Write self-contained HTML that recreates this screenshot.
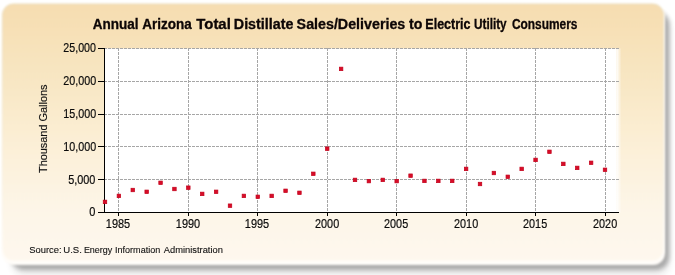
<!DOCTYPE html>
<html><head><meta charset="utf-8"><style>
html,body{margin:0;padding:0;background:#fff;width:675px;height:275px;overflow:hidden}
svg{display:block;font-family:"Liberation Sans",sans-serif}
</style></head><body>
<svg width="675" height="275" viewBox="0 0 675 275">
<defs>
<linearGradient id="bg" x1="0" y1="0" x2="0" y2="1">
<stop offset="0" stop-color="rgb(246,221,177)"/>
<stop offset="0.10" stop-color="rgb(247,224,182)"/>
<stop offset="0.32" stop-color="rgb(248,231,197)"/>
<stop offset="0.57" stop-color="rgb(252,240,216)"/>
<stop offset="0.79" stop-color="rgb(253,245,231)"/>
<stop offset="1" stop-color="rgb(254,248,238)"/>
</linearGradient>
<linearGradient id="bd" x1="0" y1="0" x2="0" y2="1">
<stop offset="0" stop-color="#dccfa8" stop-opacity="0.55"/>
<stop offset="0.5" stop-color="#e8dcc0" stop-opacity="0.4"/>
<stop offset="1" stop-color="#ffffff" stop-opacity="0.6"/>
</linearGradient>
<linearGradient id="pr" x1="0" y1="0" x2="1" y2="0">
<stop offset="0" stop-color="#fff" stop-opacity="1"/>
<stop offset="1" stop-color="#fff" stop-opacity="0"/>
</linearGradient>
<filter id="sh" x="-5%" y="-10%" width="110%" height="120%"><feGaussianBlur stdDeviation="2.2"/></filter>
<filter id="sh2" x="-5%" y="-10%" width="110%" height="120%"><feGaussianBlur stdDeviation="3"/></filter>
<filter id="idf" x="0" y="0" width="100%" height="100%" filterUnits="userSpaceOnUse"><feOffset dx="0" dy="0"/></filter>
<filter id="pb" x="-2%" y="-3%" width="104%" height="106%"><feGaussianBlur stdDeviation="0.9"/></filter>
<filter id="sb" x="-2%" y="-3%" width="104%" height="106%"><feGaussianBlur stdDeviation="1.3"/></filter>
</defs>
<rect x="10.5" y="12" width="660" height="265" rx="15" fill="#000" opacity="0.07" filter="url(#sh2)"/>
<rect x="10.5" y="11" width="659" height="259" rx="14" fill="#000" opacity="0.28" filter="url(#sh)"/>
<rect x="1.5" y="3" width="663.5" height="262" rx="12" fill="#fffdf9" filter="url(#sb)"/>
<rect x="2.5" y="4" width="661" height="257" rx="11" fill="url(#bg)" stroke="url(#bd)" stroke-width="1" filter="url(#pb)"/>
<rect x="104.5" y="48.5" width="512" height="164" fill="#fff"/>
<rect x="616.5" y="48.5" width="5" height="164" fill="url(#pr)"/>
<g stroke="#a6a6a6" stroke-width="1" stroke-dasharray="3,1" shape-rendering="crispEdges"><line x1="104" y1="48.5" x2="618.5" y2="48.5"/><line x1="104" y1="81.5" x2="618.5" y2="81.5"/><line x1="104" y1="114.5" x2="618.5" y2="114.5"/><line x1="104" y1="146.5" x2="618.5" y2="146.5"/><line x1="104" y1="179.5" x2="618.5" y2="179.5"/><line x1="118.5" y1="48" x2="118.5" y2="212"/><line x1="188.5" y1="48" x2="188.5" y2="212"/><line x1="257.5" y1="48" x2="257.5" y2="212"/><line x1="327.5" y1="48" x2="327.5" y2="212"/><line x1="396.5" y1="48" x2="396.5" y2="212"/><line x1="466.5" y1="48" x2="466.5" y2="212"/><line x1="535.5" y1="48" x2="535.5" y2="212"/><line x1="605.5" y1="48" x2="605.5" y2="212"/></g>
<g stroke="#000" stroke-width="1" shape-rendering="crispEdges">
<line x1="104.5" y1="48" x2="104.5" y2="213"/>
<line x1="98" y1="212.5" x2="618.5" y2="212.5"/>
<line x1="98" y1="48.5" x2="104" y2="48.5"/><line x1="98" y1="81.5" x2="104" y2="81.5"/><line x1="98" y1="114.5" x2="104" y2="114.5"/><line x1="98" y1="146.5" x2="104" y2="146.5"/><line x1="98" y1="179.5" x2="104" y2="179.5"/><line x1="98" y1="212.5" x2="104" y2="212.5"/><line x1="118.5" y1="212" x2="118.5" y2="215.5"/><line x1="188.5" y1="212" x2="188.5" y2="215.5"/><line x1="257.5" y1="212" x2="257.5" y2="215.5"/><line x1="327.5" y1="212" x2="327.5" y2="215.5"/><line x1="396.5" y1="212" x2="396.5" y2="215.5"/><line x1="466.5" y1="212" x2="466.5" y2="215.5"/><line x1="535.5" y1="212" x2="535.5" y2="215.5"/><line x1="605.5" y1="212" x2="605.5" y2="215.5"/>
</g>
<g fill="#d80c28" stroke="#c2001a" stroke-width="0.7"><rect x="103.25" y="200.15" width="3.5" height="3.5"/><rect x="117.14" y="194.15" width="3.5" height="3.5"/><rect x="131.03" y="188.25" width="3.5" height="3.5"/><rect x="144.92" y="190.05" width="3.5" height="3.5"/><rect x="158.81" y="181.05" width="3.5" height="3.5"/><rect x="172.69" y="187.25" width="3.5" height="3.5"/><rect x="186.58" y="185.95" width="3.5" height="3.5"/><rect x="200.47" y="192.15" width="3.5" height="3.5"/><rect x="214.36" y="190.05" width="3.5" height="3.5"/><rect x="228.25" y="203.95" width="3.5" height="3.5"/><rect x="242.14" y="194.15" width="3.5" height="3.5"/><rect x="256.03" y="195.05" width="3.5" height="3.5"/><rect x="269.92" y="194.15" width="3.5" height="3.5"/><rect x="283.81" y="189.05" width="3.5" height="3.5"/><rect x="297.70" y="191.05" width="3.5" height="3.5"/><rect x="311.58" y="172.05" width="3.5" height="3.5"/><rect x="325.47" y="146.95" width="3.5" height="3.5"/><rect x="339.36" y="67.15" width="3.5" height="3.5"/><rect x="353.25" y="178.15" width="3.5" height="3.5"/><rect x="367.14" y="179.35" width="3.5" height="3.5"/><rect x="381.03" y="178.15" width="3.5" height="3.5"/><rect x="394.92" y="179.35" width="3.5" height="3.5"/><rect x="408.81" y="173.95" width="3.5" height="3.5"/><rect x="422.70" y="179.15" width="3.5" height="3.5"/><rect x="436.59" y="179.15" width="3.5" height="3.5"/><rect x="450.47" y="179.15" width="3.5" height="3.5"/><rect x="464.36" y="167.15" width="3.5" height="3.5"/><rect x="478.25" y="182.25" width="3.5" height="3.5"/><rect x="492.14" y="171.25" width="3.5" height="3.5"/><rect x="506.03" y="175.05" width="3.5" height="3.5"/><rect x="519.92" y="167.15" width="3.5" height="3.5"/><rect x="533.81" y="158.15" width="3.5" height="3.5"/><rect x="547.70" y="150.05" width="3.5" height="3.5"/><rect x="561.59" y="162.15" width="3.5" height="3.5"/><rect x="575.48" y="166.15" width="3.5" height="3.5"/><rect x="589.37" y="161.05" width="3.5" height="3.5"/><rect x="603.25" y="168.05" width="3.5" height="3.5"/></g>
<g filter="url(#idf)"><text x="92.83" y="28.6" font-size="13.8" font-weight="bold" fill="#0d0606" textLength="45.79" lengthAdjust="spacingAndGlyphs" stroke="#0d0606" stroke-width="0.3">Annual</text><text x="142.13" y="28.6" font-size="13.8" font-weight="bold" fill="#0d0606" textLength="49.58" lengthAdjust="spacingAndGlyphs" stroke="#0d0606" stroke-width="0.3">Arizona</text><text x="196.25" y="28.6" font-size="13.8" font-weight="bold" fill="#0d0606" textLength="34.56" lengthAdjust="spacingAndGlyphs" stroke="#0d0606" stroke-width="0.3">Total</text><text x="233.84" y="28.6" font-size="13.8" font-weight="bold" fill="#0d0606" textLength="59.53" lengthAdjust="spacingAndGlyphs" stroke="#0d0606" stroke-width="0.3">Distillate</text><text x="296.61" y="28.6" font-size="13.8" font-weight="bold" fill="#0d0606" textLength="108.70" lengthAdjust="spacingAndGlyphs" stroke="#0d0606" stroke-width="0.3">Sales/Deliveries</text><text x="409.06" y="28.6" font-size="13.8" font-weight="bold" fill="#0d0606" textLength="13.38" lengthAdjust="spacingAndGlyphs" stroke="#0d0606" stroke-width="0.3">to</text><text x="425.35" y="28.6" font-size="13.8" font-weight="bold" fill="#0d0606" textLength="45.18" lengthAdjust="spacingAndGlyphs" stroke="#0d0606" stroke-width="0.3">Electric</text><text x="473.99" y="28.6" font-size="13.8" font-weight="bold" fill="#0d0606" textLength="32.66" lengthAdjust="spacingAndGlyphs" stroke="#0d0606" stroke-width="0.3">Utility</text><text x="511.92" y="28.6" font-size="13.8" font-weight="bold" fill="#0d0606" textLength="65.51" lengthAdjust="spacingAndGlyphs" stroke="#0d0606" stroke-width="0.3">Consumers</text><text x="29.33" y="252.8" font-size="9.7" fill="#111" textLength="32.30" lengthAdjust="spacingAndGlyphs" stroke="#111" stroke-width="0.12">Source:</text><text x="63.23" y="252.8" font-size="9.7" fill="#111" textLength="18.61" lengthAdjust="spacingAndGlyphs" stroke="#111" stroke-width="0.12">U.S.</text><text x="83.88" y="252.8" font-size="9.7" fill="#111" textLength="28.42" lengthAdjust="spacingAndGlyphs" stroke="#111" stroke-width="0.12">Energy</text><text x="115.09" y="252.8" font-size="9.7" fill="#111" textLength="45.12" lengthAdjust="spacingAndGlyphs" stroke="#111" stroke-width="0.12">Information</text><text x="163.80" y="252.8" font-size="9.7" fill="#111" textLength="59.12" lengthAdjust="spacingAndGlyphs" stroke="#111" stroke-width="0.12">Administration</text><text x="63.32" y="51.6" font-size="12.2" fill="#0a0a0a" textLength="32.67" lengthAdjust="spacingAndGlyphs" stroke="#0a0a0a" stroke-width="0.18">25,000</text><text x="63.31" y="84.8" font-size="12.2" fill="#0a0a0a" textLength="32.93" lengthAdjust="spacingAndGlyphs" stroke="#0a0a0a" stroke-width="0.18">20,000</text><text x="63.35" y="117.8" font-size="12.2" fill="#0a0a0a" textLength="32.89" lengthAdjust="spacingAndGlyphs" stroke="#0a0a0a" stroke-width="0.18">15,000</text><text x="63.35" y="150.6" font-size="12.2" fill="#0a0a0a" textLength="32.89" lengthAdjust="spacingAndGlyphs" stroke="#0a0a0a" stroke-width="0.18">10,000</text><text x="68.16" y="183.7" font-size="12.2" fill="#0a0a0a" textLength="27.23" lengthAdjust="spacingAndGlyphs" stroke="#0a0a0a" stroke-width="0.18">5,000</text><text x="89.27" y="215.6" font-size="12.2" fill="#0a0a0a" textLength="6.13" lengthAdjust="spacingAndGlyphs" stroke="#0a0a0a" stroke-width="0.18">0</text><text x="105.83" y="227.6" font-size="12.2" fill="#0a0a0a" textLength="24.36" lengthAdjust="spacingAndGlyphs" stroke="#0a0a0a" stroke-width="0.18">1985</text><text x="175.83" y="227.6" font-size="12.2" fill="#0a0a0a" textLength="24.36" lengthAdjust="spacingAndGlyphs" stroke="#0a0a0a" stroke-width="0.18">1990</text><text x="244.83" y="227.6" font-size="12.2" fill="#0a0a0a" textLength="24.36" lengthAdjust="spacingAndGlyphs" stroke="#0a0a0a" stroke-width="0.18">1995</text><text x="315.06" y="227.6" font-size="12.2" fill="#0a0a0a" textLength="24.13" lengthAdjust="spacingAndGlyphs" stroke="#0a0a0a" stroke-width="0.18">2000</text><text x="384.06" y="227.6" font-size="12.2" fill="#0a0a0a" textLength="24.13" lengthAdjust="spacingAndGlyphs" stroke="#0a0a0a" stroke-width="0.18">2005</text><text x="454.06" y="227.6" font-size="12.2" fill="#0a0a0a" textLength="24.13" lengthAdjust="spacingAndGlyphs" stroke="#0a0a0a" stroke-width="0.18">2010</text><text x="523.06" y="227.6" font-size="12.2" fill="#0a0a0a" textLength="24.13" lengthAdjust="spacingAndGlyphs" stroke="#0a0a0a" stroke-width="0.18">2015</text><text x="593.06" y="227.6" font-size="12.2" fill="#0a0a0a" textLength="24.13" lengthAdjust="spacingAndGlyphs" stroke="#0a0a0a" stroke-width="0.18">2020</text><text transform="translate(47.4,0) rotate(-90)" x="-173.02" y="0" font-size="11" fill="#111" stroke="#111" stroke-width="0.15" textLength="88.55" lengthAdjust="spacingAndGlyphs">Thousand Gallons</text></g>
</svg>
</body></html>
